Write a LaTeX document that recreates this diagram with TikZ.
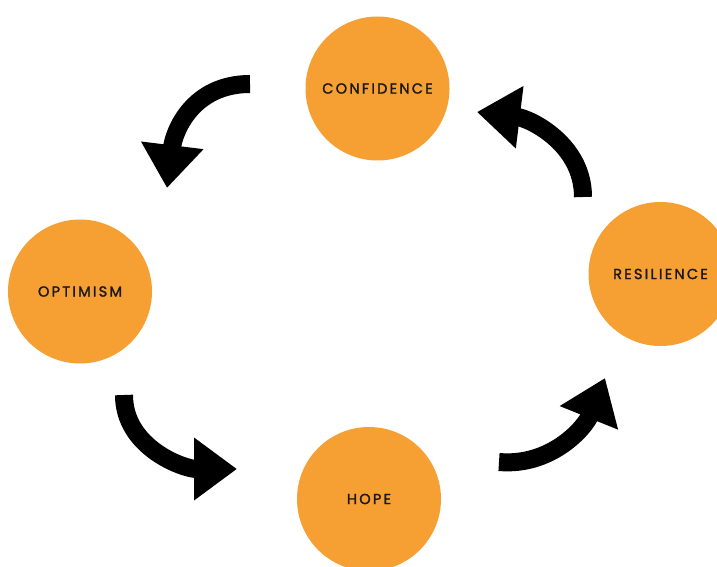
\documentclass[tikz,border=0pt]{standalone}
\usepackage{fontspec}
\usepackage{tikz}
\usetikzlibrary{arrows.meta}
\newfontfamily\circlefont[LetterSpace=15, FakeBold=1.6]{Poppins}
\definecolor{cycleorange}{HTML}{F6A034}

\begin{document}
\begin{tikzpicture}[x=1pt, y=1pt]
        % Style definitions
        \tikzstyle{stage} = [circle, fill=cycleorange, minimum size=144pt, inner sep=0pt, text=black!90, font=\circlefont\fontsize{14.6}{16}\selectfont]
        \tikzstyle{bigarrow} = [line width=18pt, -{Triangle[width=60pt, length=43pt]}]

        \useasboundingbox (0,0) rectangle (717,566);

        % Cycle nodes
        \node [stage] (confidence) at (377.5,477.5) {CONFIDENCE};
        \node [stage] (optimism) at (80,274.5) {OPTIMISM};
        \node [stage] (hope) at (369,67) {HOPE};
        \node [stage] (resilience) at (660.5,292) {RESILIENCE};

        % Arrow ends
        \coordinate (conf-out) at (250,482);
        \coordinate (opt-in) at (167,378);
        \coordinate (opt-out) at (124,171);
        \coordinate (hope-in) at (237,97);
        \coordinate (hope-out) at (499,104);
        \coordinate (res-in) at (605,188);
        \coordinate (res-out) at (583,369);
        \coordinate (conf-in) at (477,454);

        % Arrows
        \draw [bigarrow] (conf-out) to[out=180, in=83, looseness=1.1] (opt-in);
        \draw [bigarrow] (opt-out) to[out=-90, in=180] (hope-in);
        \draw [bigarrow] (hope-out) to[out=-5, in=248] (res-in);
        \draw [bigarrow] (res-out) to[out=90, in=-7] (conf-in);
    \end{tikzpicture}
\end{document}
